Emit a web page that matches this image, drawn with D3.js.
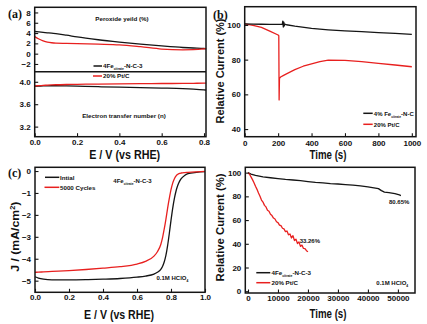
<!DOCTYPE html>
<html><head><meta charset="utf-8">
<script src="https://cdn.jsdelivr.net/npm/d3@7"></script>
<style>
body{margin:0;background:#fff}
svg{display:block}
text{font-family:"Liberation Sans",Arial,sans-serif;font-weight:bold;fill:#111}
</style></head><body>
<svg id="c" width="427" height="324"></svg>
<script>
// ---------- panel (a) ----------
const aE = [0,0.02,0.04,0.06,0.08,0.1,0.15,0.2,0.3,0.4,0.5,0.6,0.7,0.75,0.8,0.81];
const aPeroxideFe = [4.3,4.22,4.13,4.05,3.97,3.9,3.6,3.25,2.7,2.25,1.85,1.5,1.2,1.1,1.0,0.95];
const aPeroxidePt = [3.3,2.85,2.5,2.25,2.12,2.05,2.0,1.95,1.85,1.72,1.35,0.9,0.75,0.78,0.95,1.0];
const aNFe = [3.92,3.923,3.926,3.928,3.929,3.929,3.926,3.921,3.912,3.903,3.895,3.888,3.879,3.87,3.856,3.852];
const aNPt = [3.925,3.93,3.935,3.94,3.944,3.947,3.952,3.955,3.96,3.964,3.967,3.969,3.971,3.973,3.975,3.975];
const aXTicks = [0,0.2,0.4,0.6,0.8];
const aYTicksTop = [-2,0,2,4,6,8];
const aYTicksBot = [3.2,3.6,4.0];

// ---------- panel (b) ----------
const bTimeFe = [0,50,100,150,200,225,228,231,234,237,240,250,300,400,500,600,700,800,900,1000];
const bFe = [100.6,100.5,100.4,100.3,100.3,100.3,102.2,98.8,101.6,99.4,100.4,100.1,99.3,98.0,97.2,96.6,96.1,95.6,95.1,94.6];
const bTimePt = [0,50,100,150,200,204,206,208,215,230,250,300,350,400,450,500,600,700,800,900,1000];
const bPt = [100.6,99.8,98.6,96.4,94.2,93.8,56.8,69.2,70.0,70.8,71.8,74.2,76.2,77.6,78.9,79.7,79.6,78.8,77.8,76.9,75.9];
const bXTicks = [0,200,400,600,800,1000];
const bYTicks = [40,60,80,100];

// ---------- panel (c) ----------
const cE = [0,0.02,0.05,0.1,0.2,0.3,0.4,0.5,0.6,0.65,0.7,0.72,0.74,0.75,0.76,0.77,0.78,0.79,0.8,0.81,0.82,0.83,0.84,0.85,0.86,0.88,0.9,0.95,1.0];
const cInitial = [-4.82,-4.88,-4.93,-4.96,-4.96,-4.95,-4.93,-4.9,-4.84,-4.79,-4.7,-4.62,-4.48,-4.35,-4.15,-3.85,-3.4,-2.85,-2.25,-1.7,-1.25,-0.9,-0.65,-0.47,-0.35,-0.2,-0.12,-0.06,-0.03];
const c5000 = [-4.62,-4.61,-4.6,-4.58,-4.54,-4.49,-4.43,-4.36,-4.24,-4.12,-3.88,-3.68,-3.35,-3.05,-2.65,-2.2,-1.7,-1.25,-0.85,-0.55,-0.35,-0.22,-0.15,-0.11,-0.09,-0.07,-0.06,-0.04,-0.02];
const cXTicks = [0,0.2,0.4,0.6,0.8,1.0];
const cYTicks = [-5,-4,-3,-2,-1,0];

// ---------- panel (d) ----------
const dTimeFe = [0,1000,2500,5000,7500,10000,12500,15000,17500,20000,22500,25000,27500,30000,32500,35000,37500,40000,42000,43500,44500,45500,47000,49000,50500,51000];
const dFe = [100,98.8,97.6,96.5,95.7,95,94.3,93.8,93.2,92.5,91.8,91.3,90.7,90.4,89.9,89.5,88.8,88.0,87.2,86.5,84.8,83.6,83.1,82.3,81.2,80.65];
const dTimePt = [0,500,1000,1500,2000,2500,3000,3500,4000,4500,5000,5500,6000,6500,7000,7500,8000,8500,9000,9500,10000,10500,11000,11500,12000,12500,13000,13500,14000,14500,15000,15500,16000,16500,17000,17500,18000,18500,19000,19500,20000];
const dPt = [100,98.6,96.4,94.1,91.5,88.6,85.9,82.8,80.1,76.9,75.2,72.4,71.1,68.3,67.5,64.9,63.8,61.7,60.9,58.6,57.9,55.8,55.3,53.1,52.6,50.2,50.8,47.6,48.3,44.9,46.8,42.7,43.9,40.2,41.6,37.8,38.9,36.1,35.9,34.2,33.3];
const dXTicks = [0,10000,20000,30000,40000,50000];
const dYTicks = [0,20,40,60,80,100];

const BLACK = "#151515", RED = "#e8201f";
const svg = d3.select("#c");

function frame(x0, y0, x1, y1) {
  svg.append("rect").attr("x", x0).attr("y", y0).attr("width", x1 - x0).attr("height", y1 - y0)
    .attr("fill", "none").attr("stroke", BLACK).attr("stroke-width", 1.5);
}
function xAxis(scale, y, major, minor, fmt, pad) {
  const g = svg.append("g").attr("transform", `translate(0,${y})`);
  g.call(d3.axisBottom(scale).tickValues(minor).tickFormat("").tickSize(-2).tickSizeOuter(0));
  g.call(d3.axisBottom(scale).tickValues(major).tickFormat(fmt).tickSize(-3.5).tickSizeOuter(0).tickPadding(pad));
  g.selectAll(".domain").remove();
  g.selectAll("line").attr("stroke", BLACK).attr("stroke-width", 1.1);
  g.selectAll("text").attr("font-size", 8).attr("fill", BLACK).attr("font-family", null);
}
function yAxis(scale, x, major, minor, fmt) {
  const g = svg.append("g").attr("transform", `translate(${x},0)`);
  g.call(d3.axisLeft(scale).tickValues(minor).tickFormat("").tickSize(-2).tickSizeOuter(0));
  g.call(d3.axisLeft(scale).tickValues(major).tickFormat(fmt).tickSize(-3.5).tickSizeOuter(0).tickPadding(4));
  g.selectAll(".domain").remove();
  g.selectAll("line").attr("stroke", BLACK).attr("stroke-width", 1.1);
  g.selectAll("text").attr("font-size", 8).attr("fill", BLACK).attr("font-family", null);
}
function curve(xs, ys, sx, sy, color, smooth) {
  const line = d3.line().x(d => sx(d[0])).y(d => sy(d[1]));
  if (smooth) line.curve(d3.curveMonotoneX);
  svg.append("path").datum(xs.map((v, i) => [v, ys[i]]))
    .attr("d", line).attr("fill", "none").attr("stroke", color).attr("stroke-width", 1.3)
    .attr("stroke-linejoin", "round");
}
function label(x, y, parts, opts = {}) {
  const t = svg.append("text").attr("x", x).attr("y", y)
    .attr("font-size", opts.size || 6).attr("fill", opts.color || BLACK)
    .attr("text-anchor", opts.anchor || "start");
  if (opts.rotate) t.attr("transform", `rotate(-90,${x},${y})`);
  if (opts.len) t.attr("textLength", opts.len).attr("lengthAdjust", "spacingAndGlyphs");
  if (opts.serif) t.style("font-family", '"Liberation Serif","Times New Roman",serif');
  let shift = 0;
  parts.forEach(p => {
    const s = typeof p === "string" ? [p, ""] : p;
    const sz = opts.size || 6;
    let target = 0, fs = sz;
    if (s[1] === "sub") { target = sz * 0.35; fs = sz * 0.55; }
    if (s[1] === "sup") { target = -sz * 0.4; fs = sz * 0.6; }
    t.append("tspan").attr("dy", target - shift).attr("font-size", fs).text(s[0]);
    shift = target;
  });
  return t;
}
function legendLine(x0, x1, y, color) {
  svg.append("line").attr("x1", x0).attr("x2", x1).attr("y1", y).attr("y2", y)
    .attr("stroke", color).attr("stroke-width", 1.5);
}
const range = (a, b, s) => d3.range(a, b + s / 2, s);

// ================= Panel (a) =================
{
  const x0 = 34.7, x1 = 206, yT = 7.3, yM = 71.7, yB = 136.7;
  const x = d3.scaleLinear().domain([0, 0.8094]).range([x0, x1]);
  const yTop = d3.scaleLinear().domain([-3.5, 9]).range([yM, yT]);
  const yBot = d3.scaleLinear().domain([3.02, 4.18]).range([yB, yM]);
  curve(aE, aPeroxideFe, x, yTop, BLACK, true);
  curve(aE, aPeroxidePt, x, yTop, RED, true);
  curve(aE, aNFe, x, yBot, BLACK, true);
  curve(aE, aNPt, x, yBot, RED, true);
  frame(x0, yT, x1, yB);
  svg.append("line").attr("x1", x0).attr("x2", x1).attr("y1", yM).attr("y2", yM)
    .attr("stroke", BLACK).attr("stroke-width", 1.5);
  xAxis(x, yB, aXTicks, range(0, 0.8, 0.1), d3.format(".1f"), 3);
  yAxis(yTop, x0, aYTicksTop, range(-3, 9, 1), d3.format("d"));
  yAxis(yBot, x0, aYTicksBot, range(3.2, 4.0, 0.2), d3.format(".1f"));
  label(122, 20.5, ["Peroxide yeild (%)"], { anchor: "middle", size: 6.2 });
  label(124, 118, ["Electron transfer number (n)"], { anchor: "middle", size: 6.2 });
  legendLine(93.5, 102, 66, BLACK);
  label(103, 68.2, ["4Fe", ["citrate", "sub"], "-N-C-3"], { size: 6.2 });
  legendLine(93, 102, 76, RED);
  label(103, 78.2, ["20% Pt/C"], { size: 6.2 });
  label(124.7, 159.3, ["E / V (vs RHE)"], { anchor: "middle", size: 12, len: 71 });
  label(8, 17.5, ["(a)"], { size: 12, serif: true });
}

// ================= Panel (b) =================
{
  const x0 = 244.7, x1 = 416, yT = 6.7, yB = 136.7;
  const x = d3.scaleLinear().domain([0, 1025]).range([x0, x1]);
  const y = d3.scaleLinear().domain([35.6, 110.5]).range([yB, yT]);
  curve(bTimePt, bPt, x, y, RED, false);
  curve(bTimeFe, bFe, x, y, BLACK, false);
  frame(x0, yT, x1, yB);
  xAxis(x, yB, bXTicks, range(0, 1000, 100), d3.format("d"), 3.5);
  yAxis(y, x0, bYTicks, range(40, 110, 10), d3.format("d"));
  legendLine(363.3, 372.7, 113.3, BLACK);
  label(373.8, 115.5, ["4% Fe", ["citrate", "sub"], "-N-C"], { size: 6 });
  legendLine(363.3, 372.7, 124.3, RED);
  label(373.8, 126.5, ["20%  Pt/C"], { size: 6 });
  label(328, 159.3, ["Time (s)"], { anchor: "middle", size: 12, len: 37 });
  label(224, 71, ["Relative Current (%)"], { anchor: "middle", size: 11, rotate: true, len: 105 });
  label(213, 19, ["(b)"], { size: 12, serif: true });
}

// ================= Panel (c) =================
{
  const x0 = 35, x1 = 205, yT = 167.3, yB = 292.3;
  const x = d3.scaleLinear().domain([0, 1.0]).range([x0, x1]);
  const y = d3.scaleLinear().domain([-5.53, 0.17]).range([yB, yT]);
  curve(cE, cInitial, x, y, BLACK, true);
  curve(cE, c5000, x, y, RED, true);
  frame(x0, yT, x1, yB);
  xAxis(x, yB, cXTicks, range(0, 1, 0.1), d3.format(".1f"), 2.5);
  yAxis(y, x0, cYTicks, range(-5.5, 0, 0.5), d3.format("d"));
  legendLine(45, 59.3, 177.3, BLACK);
  label(60, 179.5, ["Intial"], { size: 6.2 });
  legendLine(44.5, 59.3, 187.3, RED);
  label(60, 189.5, ["5000 Cycles"], { size: 6.2 });
  label(113.3, 183, ["4Fe", ["citrate", "sub"], "-N-C-3"], { size: 6 });
  label(156.5, 279.5, ["0.1M HClO", ["4", "sub"]], { size: 6 });
  label(119, 318.5, ["E / V (vs RHE)"], { anchor: "middle", size: 12, len: 70 });
  label(19.5, 236.7, ["J / (mA/cm", ["2", "sup"], ")"], { anchor: "middle", size: 11, rotate: true, len: 70 });
  label(8, 177, ["(c)"], { size: 12, serif: true });
}

// ================= Panel (d) =================
{
  const x0 = 245.3, x1 = 415, yT = 167.3, yB = 293;
  const x = d3.scaleLinear().domain([-900, 55700]).range([x0, x1]);
  const y = d3.scaleLinear().domain([-1.5, 104.5]).range([yB, yT]);
  curve(dTimeFe, dFe, x, y, BLACK, false);
  curve(dTimePt, dPt, x, y, RED, false);
  frame(x0, yT, x1, yB);
  xAxis(x, yB, dXTicks, range(0, 55000, 5000), d3.format("d"), 2);
  yAxis(y, x0, dYTicks, range(0, 100, 10), d3.format("d"));
  label(389, 204.3, ["80.65%"], { size: 6 });
  label(299.7, 243, ["33.26%"], { size: 6, color: RED });
  legendLine(256.3, 270.3, 272.7, BLACK);
  label(271.5, 274.9, ["4Fe", ["citrate", "sub"], "-N-C-3"], { size: 6.2 });
  legendLine(256.3, 270.3, 282.7, RED);
  label(271.5, 284.9, ["20% Pt/C"], { size: 6.2 });
  label(376.3, 284.9, ["0.1M HClO", ["4", "sub"]], { size: 6 });
  label(328, 317.5, ["Time (s)"], { anchor: "middle", size: 12, len: 37 });
  label(224, 227.5, ["Relative Current (%)"], { anchor: "middle", size: 11, rotate: true, len: 108 });
}
</script></body></html>
